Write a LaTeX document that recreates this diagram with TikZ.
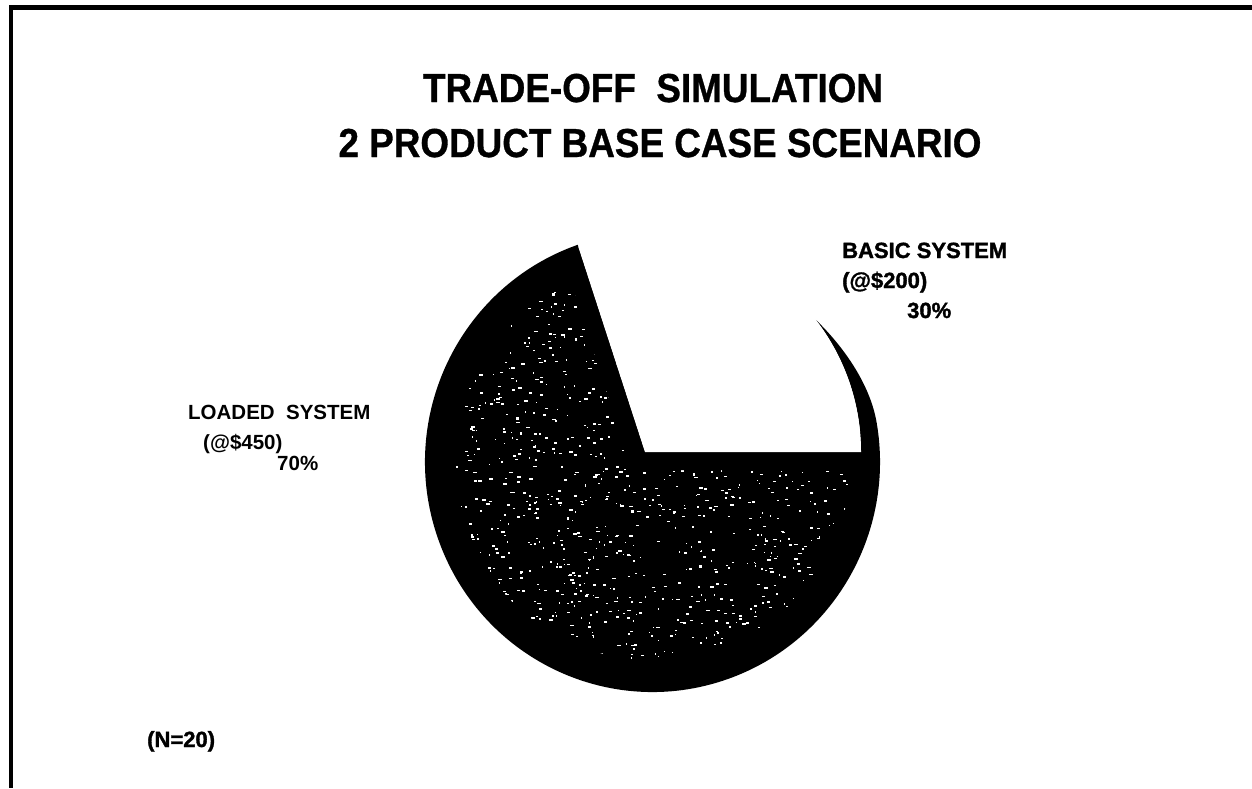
\documentclass[tikz,border=0pt]{standalone}
\usepackage{fontspec}
\setmainfont{Liberation Sans}
\newfontfamily\titlefont{Liberation Sans}[FakeStretch=0.91,BoldFeatures={FakeBold=0.8}]
\newfontfamily\heavyfont{Liberation Sans}[BoldFeatures={FakeBold=1.5}]
\usetikzlibrary{calc}

% outline of the dark 70% part: straight edge from the centre, the round rim,
% and the thin crescent left where the 30% slice has been taken out
\newcommand\pieshape{(O) -- (E) arc[start angle=-109.2,end angle=-370,x radius=227.5,y radius=230]
  .. controls +(-6.9,-39.4) and (842,345) .. (T)
  arc[start angle=-37.7,end angle=0,radius=216] -- cycle}

\begin{document}
\begin{tikzpicture}[x=1pt,y=-1pt,
  headline/.style={font=\titlefont\bfseries\fontsize{40.5}{44}\selectfont,inner sep=0pt,anchor=base},
  sidelabel/.style={font=\bfseries\fontsize{20.5}{24}\selectfont,inner sep=0pt,anchor=base west},
  heavylabel/.style={font=\heavyfont\bfseries\fontsize{22}{24}\selectfont,inner sep=0pt,anchor=base west}]
\useasboundingbox (0,0) rectangle (1252,788);

% frame along the top and left edges
\draw[line width=4.5pt,line join=miter] (1252,7.25) -- (11,7.25) -- (11,788);

% pie chart
\coordinate (O) at (645,452);
\coordinate (C) at (652.5,462);
\coordinate (E) at ($(C)+(-109.2:227.5 and 230)$);
\coordinate (A) at ($(O)+(-108:216)$);
\coordinate (T) at ($(O)+(-37.7:216)$);

\fill[black] \pieshape;

% grainy halftone inside the dark part
\begin{scope}
  \clip (C) circle[radius=198];
  \pgfmathsetseed{4711}
  \foreach \i in {1,...,1100}{
    \pgfmathsetmacro\ang{360*rnd}
    \pgfmathsetmacro\rad{198*sqrt(rnd)}
    \pgfmathsetmacro\w{0.8+3*rnd}
    \pgfmathsetmacro\h{0.8+1.4*rnd}
    \fill[white] ($(C)+(\ang:\rad)$) rectangle +(\w,\h);
  }
\end{scope}

% solid rim along the straight edges of the slice
\begin{scope}
  \clip \pieshape;
  \draw[line width=36pt] (A) -- (O) -- ++(216,0);
\end{scope}

% the 30% slice left open
\fill[white] (O) -- ++(216,0) arc[start angle=0,end angle=-108,radius=216] -- cycle;

% titles
\node[headline] (t1) at (653,102) {TRADE-OFF\ \ SIMULATION};
\node[headline] (t2) at (660,157) {2 PRODUCT BASE CASE SCENARIO};

% slice labels
\node[heavylabel] (b1) at (842,258) {BASIC SYSTEM};
\node[heavylabel] (b2) at (842,288) {(@\$200)};
\node[heavylabel] (b3) at (907,318) {30\%};

\node[sidelabel] (l1) at (188,419) {LOADED\ \ SYSTEM};
\node[sidelabel] (l2) at (203,449) {(@\$450)};
\node[sidelabel] (l3) at (277,470) {70\%};

\node[heavylabel] (n) at (147,747) {(N=20)};
\end{tikzpicture}
\end{document}
